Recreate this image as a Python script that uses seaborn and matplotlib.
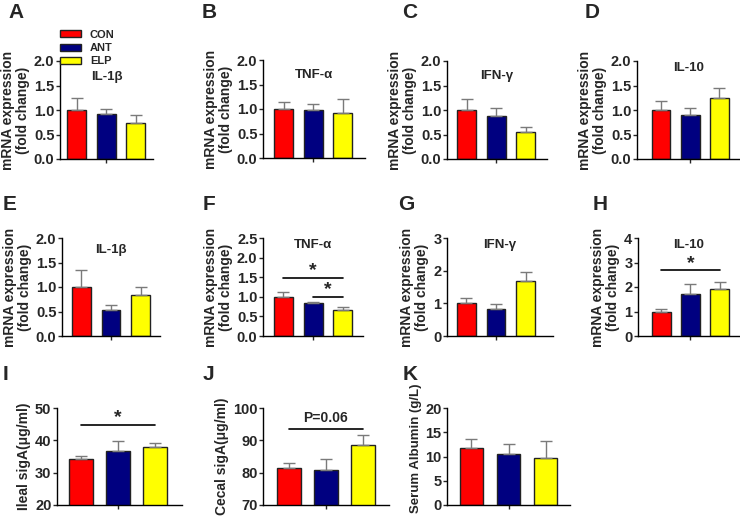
import numpy as np
import seaborn as sns
import matplotlib.pyplot as plt

# groups and colours
groups = ['CON', 'ANT', 'ELP']
colors = ['#ff0000', '#000080', '#ffff00']

# jejunum mRNA (A-D)
il1b_a = [1.00, 0.92, 0.73]
il1b_a_err = [0.25, 0.11, 0.17]
tnf_b = [1.00, 0.98, 0.91]
tnf_b_err = [0.14, 0.12, 0.30]
ifn_c = [1.00, 0.87, 0.56]
ifn_c_err = [0.23, 0.18, 0.10]
il10_d = [1.00, 0.89, 1.24]
il10_d_err = [0.18, 0.15, 0.21]

# ileum mRNA (E-H)
il1b_e = [1.00, 0.53, 0.83]
il1b_e_err = [0.35, 0.10, 0.16]
tnf_f = [1.00, 0.83, 0.66]
tnf_f_err = [0.11, 0.03, 0.07]
ifn_g = [1.00, 0.83, 1.69]
ifn_g_err = [0.16, 0.16, 0.28]
il10_h = [0.97, 1.71, 1.90]
il10_h_err = [0.15, 0.43, 0.32]

# sigA and albumin (I-K)
ileal_siga = [34.1, 36.6, 38.0]
ileal_siga_err = [1.0, 3.1, 1.2]
cecal_siga = [81.3, 80.8, 88.6]
cecal_siga_err = [1.8, 3.4, 3.1]
albumin = [11.85, 10.5, 9.6]
albumin_err = [1.75, 2.1, 3.5]

mrna_label = 'mRNA expression\n(fold change)'

sns.set_style('ticks')
plt.rcParams['font.family'] = ['Liberation Sans', 'DejaVu Sans']
plt.rcParams['font.weight'] = 'bold'

W, H = 740, 520
fig = plt.figure(figsize=(7.4, 5.2), dpi=100)


def add_ax(left, right, top, bottom):
    return fig.add_axes([left / W, 1 - bottom / H, (right - left) / W, (bottom - top) / H])


# panel: letter, letter pos, axes box px, xlim, data, err, ylim, yticks, fmt, ylabel, title, title y
panels = [
    ('A', (8, 3), (60, 153, 61, 159), (-0.56, 2.59), il1b_a, il1b_a_err, (0, 2), np.arange(0, 2.01, 0.5), '{:.1f}', mrna_label, 'IL-1β', 0.84),
    ('B', (202, 3), (263, 365, 60, 158), (-0.71, 2.75), tnf_b, tnf_b_err, (0, 2), np.arange(0, 2.01, 0.5), '{:.1f}', mrna_label, 'TNF-α', 0.85),
    ('C', (402, 3), (447, 547, 61, 159), (-0.66, 2.71), ifn_c, ifn_c_err, (0, 2), np.arange(0, 2.01, 0.5), '{:.1f}', mrna_label, 'IFN-γ', 0.85),
    ('D', (585, 3), (637, 740, 61, 159), (-0.83, 2.71), il10_d, il10_d_err, (0, 2), np.arange(0, 2.01, 0.5), '{:.1f}', mrna_label, 'IL-10', 0.93),
    ('E', (3, 195), (62, 160, 238, 336), (-0.66, 2.66), il1b_e, il1b_e_err, (0, 2), np.arange(0, 2.01, 0.5), '{:.1f}', mrna_label, 'IL-1β', 0.88),
    ('F', (203, 195), (263, 363, 238, 336), (-0.69, 2.68), tnf_f, tnf_f_err, (0, 2.5), np.arange(0, 2.51, 0.5), '{:.1f}', mrna_label, 'TNF-α', 0.93),
    ('G', (398, 195), (447, 553, 238, 336), (-0.66, 2.93), ifn_g, ifn_g_err, (0, 3), np.arange(0, 3.01, 1), '{:.0f}', mrna_label, 'IFN-γ', 0.93),
    ('H', (593, 195), (638, 740, 238, 336), (-0.8, 2.7), il10_h, il10_h_err, (0, 4), np.arange(0, 4.01, 1), '{:.0f}', mrna_label, 'IL-10', 0.93),
    ('I', (3, 365), (57, 182, 408, 505), (-0.65, 2.73), ileal_siga, ileal_siga_err, (20, 50), np.arange(20, 51, 10), '{:.0f}', 'Ileal sigA(μg/ml)', None, 0),
    ('J', (203, 365), (263, 389, 408, 505), (-0.7, 2.7), cecal_siga, cecal_siga_err, (70, 100), np.arange(70, 101, 10), '{:.0f}', 'Cecal sigA(μg/ml)', None, 0),
    ('K', (403, 365), (447, 570, 408, 505), (-0.66, 2.66), albumin, albumin_err, (0, 20), np.arange(0, 21, 5), '{:.0f}', 'Serum Albumin (g/L)', None, 0),
]

axes = {}
for letter, lpos, box, xlim, vals, errs, ylim, yticks, fmt, ylabel, title, ty in panels:
    ax = add_ax(*box)
    axes[letter] = ax
    sns.barplot(x=groups, y=vals, hue=groups, palette=colors, width=0.64,
                saturation=1, edgecolor='#222222', linewidth=1, errorbar=None,
                legend=(letter == 'A'), ax=ax)
    ax.errorbar(x=[0, 1, 2], y=vals, yerr=[[0, 0, 0], errs], fmt='none',
                ecolor='#7a7a7a', elinewidth=1, capsize=4, capthick=1)
    ax.set_xlim(*xlim)
    ax.set_ylim(*ylim)
    ax.set_xticks([1])
    ax.set_xticklabels([''])
    ax.set_yticks(yticks)
    ax.set_yticklabels([fmt.format(t) for t in yticks], fontsize=10.5, fontweight='bold')
    ax.set_ylabel(ylabel, fontsize=10, fontweight='bold', labelpad=3, linespacing=1.1)
    ax.set_xlabel('')
    ax.tick_params(length=3, width=1, pad=1)
    for s in ['left', 'bottom']:
        ax.spines[s].set_linewidth(1)
        ax.spines[s].set_color('black')
    sns.despine(ax=ax)
    if title:
        ax.text(0.5, ty, title, transform=ax.transAxes, ha='center', va='center',
                fontsize=9.5, fontweight='bold')
    fig.text(lpos[0] / W, 1 - lpos[1] / H, letter, ha='left', va='top',
             fontsize=15, fontweight='bold')

# albumin label sits a bit higher so it stays inside the figure
axes['K'].yaxis.label.set_fontsize(9.5)
axes['K'].yaxis.set_label_coords(-0.2, 0.58)

# legend in panel A
sns.move_legend(axes['A'], 'upper left', bbox_to_anchor=(0.0, 1.32), frameon=False,
                title=None, fontsize=8, handlelength=1.9, handleheight=0.6,
                labelspacing=0.3, handletextpad=0.8, borderpad=0, borderaxespad=0)
for t in axes['A'].get_legend().get_texts():
    t.set_fontweight('bold')

# significance marks
ax = axes['F']
ax.plot([0, 2], [1.49, 1.49], color='black', lw=1.2)
ax.text(1, 1.66, '*', ha='center', va='center', fontsize=14, fontweight='bold')
ax.plot([1, 2], [0.99, 0.99], color='black', lw=1.2)
ax.text(1.5, 1.18, '*', ha='center', va='center', fontsize=14, fontweight='bold')

ax = axes['H']
ax.plot([0, 2], [2.68, 2.68], color='black', lw=1.2)
ax.text(1, 2.95, '*', ha='center', va='center', fontsize=14, fontweight='bold')

ax = axes['I']
ax.plot([0, 2], [44.7, 44.7], color='black', lw=1.2)
ax.text(1, 47.0, '*', ha='center', va='center', fontsize=14, fontweight='bold')

ax = axes['J']
ax.plot([0, 2], [93.6, 93.6], color='black', lw=1.2)
ax.text(1, 97.0, 'P=0.06', ha='center', va='center', fontsize=10, fontweight='bold')

fig.savefig('out.png', dpi=100)
